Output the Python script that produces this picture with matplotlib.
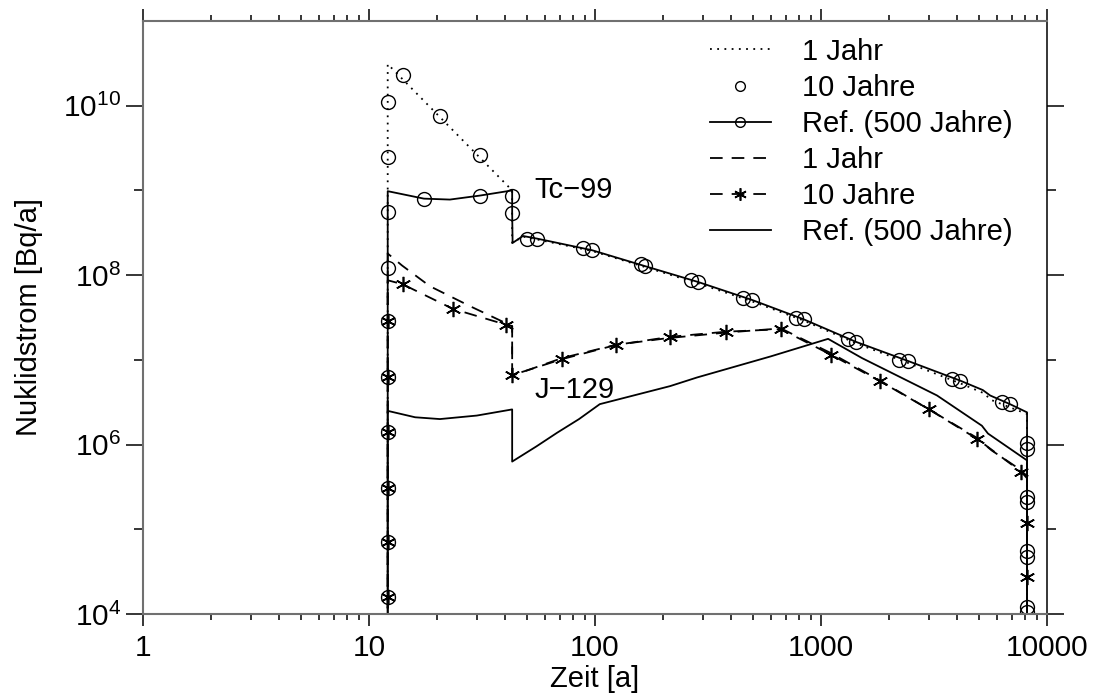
import matplotlib
matplotlib.use("Agg")
import matplotlib.pyplot as plt
from matplotlib.lines import Line2D
from matplotlib.ticker import FixedLocator, LogLocator, NullFormatter, LogFormatterSciNotation

plt.rcParams['font.family'] = ['Liberation Sans', 'DejaVu Sans']
plt.rcParams['mathtext.default'] = 'regular'
plt.rcParams['font.size'] = 21

# curves run off the bottom of the axis at start and end of release
LOW = 1e3

# ---- Tc-99 ----
tc_1a_t = [12.1, 12.1, 43, 43, 48, 55, 97, 166, 286, 495, 841, 1429, 2427, 4120, 5300, 5600, 6860, 8160, 8160]
tc_1a_y = [LOW, 3.1e10, 1.0e9, 2.4e8, 2.85e8, 2.65e8, 1.93e8, 1.25e8, 8.0e7, 4.9e7, 2.9e7, 1.57e7, 9.2e6,
           5.3e6, 4.0e6, 3.4e6, 2.75e6, 2.3e6, LOW]

tc_10a_t = [12.1, 12.1, 12.1, 12.1, 12.1, 12.1, 12.1, 12.1, 14.1, 20.6, 31, 43,
            50, 88.5, 160, 266, 452, 775, 1316, 2214, 3800, 6320, 8160, 8160, 8160, 8160]
tc_10a_y = [1.6e4, 7.0e4, 3.1e5, 1.4e6, 6.3e6, 2.9e7, 2.5e9, 1.1e10, 2.3e10, 7.6e9, 2.6e9, 8.7e8,
            2.7e8, 2.08e8, 1.35e8, 8.7e7, 5.4e7, 3.1e7, 1.77e7, 1.0e7, 6.0e6, 3.2e6, 1.05e6, 2.4e5, 5.5e4, 1.2e4]

tc_ref_t = [12.1, 12.1, 12.1, 12.1, 17.5, 22.8, 31, 43, 43, 43.2, 48, 55.4, 97, 166, 286, 495, 841, 1429,
            2427, 4120, 5200, 5600, 6860, 8160, 8160, 8160, 8160, 8160, 8160]
tc_ref_y = [LOW, 1.2e8, 5.5e8, 9.8e8, 8.0e8, 7.8e8, 8.7e8, 1.0e9, 5.4e8, 2.4e8, 2.9e8, 2.7e8, 1.97e8, 1.28e8,
            8.3e7, 5.1e7, 3.0e7, 1.63e7, 9.7e6, 5.7e6, 4.4e6, 3.8e6, 3.0e6, 2.4e6, 8.9e5, 2.1e5, 4.7e4, 1.05e4, LOW]
tc_ref_marks = [1, 2, 4, 6, 8, 11, 12, 13, 14, 15, 16, 17, 18, 19, 22, 24, 25, 26, 27]

# ---- J-129 ----
j_1a_t = [12.1, 12.1, 14, 18.6, 28, 43, 43, 71.5, 123, 208, 380, 665, 1107, 1824, 3006, 4900, 5300, 5700, 7670, 8160, 8160]
j_1a_y = [LOW, 1.8e8, 1.3e8, 7.4e7, 4.3e7, 2.5e7, 6.5e6, 1.05e7, 1.5e7, 1.8e7, 2.1e7, 2.35e7, 1.2e7, 5.7e6,
          2.6e6, 1.2e6, 1.0e6, 8.5e5, 5.0e5, 4.2e5, LOW]

j_10a_t = [12.1, 12.1, 12.1, 12.1, 12.1, 12.1, 12.1, 12.1, 14.1, 23.5, 40.4, 43, 43, 71.5, 124, 215, 380, 665,
           1107, 1824, 3006, 4900, 7670, 8160, 8160, 8160, 8160]
j_10a_y = [LOW, 1.6e4, 7.0e4, 3.1e5, 1.4e6, 6.3e6, 2.9e7, 8.7e7, 7.8e7, 4.0e7, 2.6e7, 2.5e7, 6.6e6, 1.02e7,
           1.5e7, 1.87e7, 2.15e7, 2.3e7, 1.15e7, 5.6e6, 2.6e6, 1.17e6, 4.8e5, 4.0e5, 1.2e5, 2.7e4, LOW]
j_10a_marks = [1, 2, 3, 4, 5, 6, 8, 9, 10, 12, 13, 14, 15, 16, 17, 18, 19, 20, 21, 22, 24, 25]

j_ref_t = [12.1, 12.1, 16, 20.6, 30, 43, 43, 55, 68, 85, 105, 215, 283, 600, 1075, 1518, 3260, 5150, 5480, 8160, 8160]
j_ref_y = [LOW, 2.5e6, 2.1e6, 2.0e6, 2.2e6, 2.6e6, 6.3e5, 9.5e5, 1.38e6, 2.0e6, 3.0e6, 4.9e6, 6.2e6, 1.1e7,
           1.77e7, 1.05e7, 3.8e6, 1.67e6, 1.35e6, 6.5e5, LOW]

x_ticks = [1, 10, 100, 1000, 10000]
x_labels = ['1', '10', '100', '1000', '10000']
labels = ['1 Jahr', '10 Jahre', 'Ref. (500 Jahre)', '1 Jahr', '10 Jahre', 'Ref. (500 Jahre)']

dotted = (0, (1, 3))
dashed = (0, (7, 5))
star = (6, 2, 0)

fig = plt.figure(figsize=(10.94, 6.94), dpi=100)
ax = fig.add_axes([143 / 1094, 80 / 694, 904 / 1094, 593 / 694])

lw = 1.3
ax.plot(tc_1a_t, tc_1a_y, color='k', lw=lw, ls=dotted)
ax.plot(tc_10a_t, tc_10a_y, ls='none', marker='o', ms=10, mfc='none', mec='k', mew=1.0)
ax.plot(tc_ref_t, tc_ref_y, color='k', lw=lw, marker='o', ms=10, mfc='none', mec='k', mew=1.0,
        markevery=tc_ref_marks)
ax.plot(j_1a_t, j_1a_y, color='k', lw=lw, ls=dashed)
ax.plot(j_10a_t, j_10a_y, color='k', lw=lw, ls=dashed, marker=star, ms=11, mew=1.2,
        markevery=j_10a_marks)
ax.plot(j_ref_t, j_ref_y, color='k', lw=lw)

ax.text(54, 1.0e9, 'Tc\u221299', va='center', ha='left', fontsize=21)
ax.text(54, 4.4e6, 'J\u2212129', va='center', ha='left', fontsize=21)

ax.set_xscale('log')
ax.set_yscale('log')
ax.set_xlim(1, 1e4)
ax.set_ylim(1e4, 1e11)

ax.set_xticks(x_ticks, labels=x_labels)
ax.xaxis.set_minor_locator(LogLocator(base=10, subs=range(2, 10)))
ax.xaxis.set_minor_formatter(NullFormatter())
ax.yaxis.set_major_locator(FixedLocator([1e4, 1e6, 1e8, 1e10]))
ax.yaxis.set_major_formatter(LogFormatterSciNotation())
ax.yaxis.set_minor_locator(FixedLocator([1e5, 1e7, 1e9]))
ax.yaxis.set_minor_formatter(NullFormatter())

ax.tick_params(axis='both', which='both', direction='out', top=True, right=True, color='k', width=1.1)
ax.tick_params(axis='x', which='major', length=8.5, pad=6)
ax.tick_params(axis='x', which='minor', length=4.3)
ax.tick_params(axis='y', which='major', length=12.5, pad=3)
ax.tick_params(axis='y', which='minor', length=6.5)
ax.tick_params(labelsize=21.5)

for side in ['left', 'top', 'bottom']:
    ax.spines[side].set_color('#707070')
    ax.spines[side].set_linewidth(1.5)
ax.spines['right'].set_color('k')
ax.spines['right'].set_linewidth(1.1)

ax.set_xlabel('Zeit [a]', fontsize=21, labelpad=2)
ax.set_ylabel('Nuklidstrom [Bq/a]', fontsize=21)
ax.yaxis.set_label_coords(-0.111, 0.5)

handles = [
    Line2D([], [], color='k', lw=lw, ls=dotted),
    Line2D([], [], ls='none', marker='o', ms=7, mfc='none', mec='k', mew=1.0),
    Line2D([], [], color='k', lw=lw, marker='o', ms=7, mfc='none', mec='k', mew=1.0),
    Line2D([], [], color='k', lw=lw, ls=dashed),
    Line2D([], [], color='k', lw=lw, ls=dashed, marker=star, ms=9, mew=1.2),
    Line2D([], [], color='k', lw=lw),
]
ax.legend(handles, labels, loc='upper left', bbox_to_anchor=(0.627, 0.972), frameon=False,
          borderaxespad=0, borderpad=0, handlelength=2.1, handletextpad=1.05, labelspacing=0.28,
          numpoints=1, fontsize=21)

fig.savefig('out.png', dpi=100)
